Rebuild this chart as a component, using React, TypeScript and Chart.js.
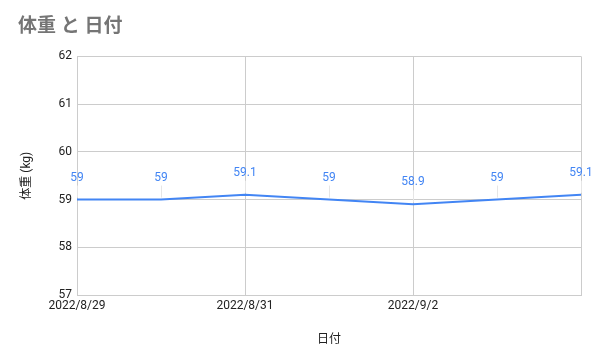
import React, { useEffect, useRef } from "react";
import { Chart, registerables } from "chart.js";

Chart.register(...registerables);

const titleText = "体重 と 日付";
const xTitle = "日付";
const yTitle = "体重 (kg)";
const dates = ["2022/8/29", "2022/8/30", "2022/8/31", "2022/9/1", "2022/9/2", "2022/9/3", "2022/9/4"];
const weights = [59, 59, 59.1, 59, 58.9, 59, 59.1];
const shownDateLabels = ["2022/8/29", "2022/8/31", "2022/9/2"];
const yMin = 57;
const yMax = 62;

const FONT = "Roboto, 'Noto Sans CJK JP', sans-serif";
const BLUE = "#4285F4";
const GRID = "#cccccc";

const dataLabelPlugin = {
  id: "dataLabels",
  afterDatasetsDraw(chart: any) {
    const ctx = chart.ctx;
    const meta = chart.getDatasetMeta(0);
    ctx.save();
    ctx.font = `12px ${FONT}`;
    ctx.textAlign = "center";
    ctx.textBaseline = "middle";
    meta.data.forEach((pt: any, i: number) => {
      const v = chart.data.datasets[0].data[i];
      const ly = pt.y - 22;
      ctx.strokeStyle = "#e6e6e6";
      ctx.lineWidth = 1;
      ctx.beginPath();
      ctx.moveTo(Math.round(pt.x) + 0.5, ly + 8);
      ctx.lineTo(Math.round(pt.x) + 0.5, pt.y - 2);
      ctx.stroke();
      ctx.fillStyle = BLUE;
      ctx.fillText(String(v), pt.x, ly);
    });
    ctx.restore();
  },
};

export default function App() {
  const ref = useRef<HTMLCanvasElement | null>(null);
  useEffect(() => {
    if (!ref.current) return;
    const chart = new Chart(ref.current, {
      type: "line",
      data: {
        labels: dates,
        datasets: [
          {
            data: weights,
            borderColor: BLUE,
            backgroundColor: BLUE,
            borderWidth: 2,
            pointRadius: 0,
            tension: 0,
          },
        ],
      },
      options: {
        animation: false,
        responsive: false,
        layout: { padding: { left: 18, right: 19, top: 0, bottom: 0 } },
        plugins: {
          legend: { display: false },
          tooltip: { enabled: false },
          title: {
            display: true,
            text: titleText,
            align: "start",
            color: "#757575",
            font: { family: FONT, size: 19, weight: "bold" },
            padding: { top: 16, bottom: 17.6 },
          },
        },
        scales: {
          x: {
            type: "category",
            offset: false,
            grid: {
              color: (c: any) => (c.index % 2 === 0 ? GRID : "rgba(0,0,0,0)"),
              drawTicks: false,
            },
            border: { color: GRID },
            ticks: {
              autoSkip: false,
              maxRotation: 0,
              padding: 4,
              color: "#222222",
              font: { family: FONT, size: 12 },
              callback: (_v: any, i: number) => (shownDateLabels.includes(dates[i]) ? dates[i] : ""),
            },
            title: {
              display: true,
              text: xTitle,
              color: "#222222",
              font: { family: FONT, size: 12 },
              padding: { top: 0, bottom: 13 },
            },
            afterFit: (s: any) => {
              s.height = 65;
            },
          },
          y: {
            min: yMin,
            max: yMax,
            grid: { color: GRID, drawTicks: false },
            border: { color: GRID },
            ticks: {
              stepSize: 1,
              padding: 5,
              color: "#222222",
              font: { family: FONT, size: 12 },
            },
            title: {
              display: true,
              text: yTitle,
              color: "#222222",
              font: { family: FONT, size: 12 },
              padding: { top: 2, bottom: 0 },
            },
            afterFit: (s: any) => {
              s.width = 59;
            },
          },
        },
      },
      plugins: [dataLabelPlugin],
    } as any);
    return () => chart.destroy();
  }, []);
  return (
    <div style={{ position: "absolute", left: 0, top: 0, width: 600, height: 360, background: "#fff" }}>
      <canvas ref={ref} width={600} height={360} />
    </div>
  );
}
